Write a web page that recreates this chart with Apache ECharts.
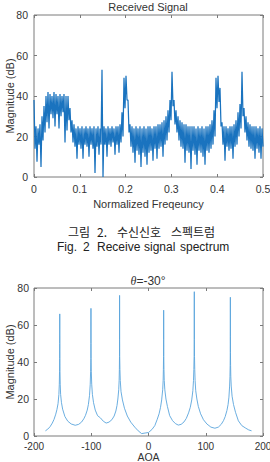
<!DOCTYPE html>
<html><head><meta charset="utf-8">
<script src="https://cdn.jsdelivr.net/npm/echarts@6/dist/echarts.min.js"></script>
<style>html,body{margin:0;padding:0;background:#fff;}#c{width:270px;height:462px;}</style>
</head><body><div id="c"></div>
<script>
// ---- Top chart: received signal spectrum (upper / lower envelope of the noisy band, per bin pair)
const recvUpper = [38,25,24,26,30,35,40,42,41,40,42,41,40,41,40,41,40,40,34,28,
  26,24,25,24,25,24,25,24,25,24,25,24,25,24,53,25,24,25,24,25,
  24,25,25,26,32,49,50,38,26,25,24,25,24,25,24,25,24,25,25,24,
  25,25,26,26,27,28,30,33,38,52,38,33,30,28,27,26,26,25,25,25,
  25,24,25,24,25,24,25,25,26,28,33,49,50,44,27,25,25,24,25,25,
  26,28,32,36,52,34,30,27,26,25,25,25,24,25,24];
const recvLower = [14,7.5,16,5,18,22,27,24,31,29,25,31,24,30,32,17,23,28,22,17,
  15,9,16,14,9,16,15,10,16,14,2,15,11,16,0,16,10,16,15,17,
  11,16,12,17,20,34,38,22,15,12,7,13,11,5,12,10,6,12,13,8,
  14,9,14,15,10,16,18,22,28,35,26,22,18,15,14,7,13,12,4,13,
  11,6,13,12,10,6,13,12,14,16,20,34,37,25,16,8,15,13,14,9,
  15,16,20,24,30,22,18,15,14,13,9,14,12,9,15];
const freqTicks = ['0','0.1','0.2','0.3','0.4','0.5'];

// ---- Bottom chart: spectrum vs AOA (theta = -30 deg)
const aoaDeg = [-180,-176,-172,-168,-165,-162,-160,-158,-156.5,-155.8,-155.4,-155.15,-155.05,-155,-154.95,-154.85,-154.6,-154.2,-153.5,-152,-150,-146,-141,-135,-128,
  -122,-117,-113,-110,-107,-105,-103,-101.8,-101.1,-100.7,-100.55,-100.5,-100.45,-100.3,-99.9,-99.2,-98,-96,-93,-89,-84,-79,-74,
  -69,-64,-60,-57,-55,-53.5,-52,-51.3,-50.9,-50.65,-50.55,-50.5,-50.45,-50.3,-49.9,-49.3,-48,-45.5,-42,-37,-31,-24,-18,-12,-6,0,6,11,15,18.5,21,23,24.8,25.6,26,26.3,26.45,26.5,26.55,26.7,27,27.5,28.5,30.5,33,37,42,47,52,
  57,62,66,70,73,75.5,77.5,78.6,79.2,79.65,79.92,80,80.08,80.35,80.8,81.4,82.5,84.5,87,91,96,102,109,116,
  122,127,131,134,137,139,140.5,141.7,142.3,142.65,142.85,142.95,143,143.05,143.15,143.4,143.8,144.5,146,148.5,152,157,163,170,175,180];
const aoaMag = [2.8,3.7,5.0,7.0,9.0,11.8,14.2,17.5,22.5,28,35,42,50,66,50,42,35,28,22.5,18,14.5,10.5,8,6.5,5.8,
  6.3,7.5,9.3,11.2,14,17,22,28,35,42,50,69,50,42,35,28,22.5,18,14,11,9.8,8.0,7.0,
  7.5,8.8,10.8,13.5,16.5,20,25,30,36,43,52,76,52,43,36,30,24,19.5,15,10.8,7.5,4.8,2.8,1.3,1.6,1.9,3.5,5.6,8.8,12,15.5,19.5,25,30,36,43,52,68,52,43,36,30,25,20,16,11,8.3,6.7,5.9,
  6.3,7.6,9.5,12.5,15.5,19.5,24.5,30,36,43,52,78,52,43,36,30,24.5,20,16,12,8.8,6.5,4.8,4.2,
  4.8,6.3,8.3,10.5,13.8,17,21,27,32,38,45,54,75,54,45,38,32,27,21.5,17,12.8,8.2,5.6,4.2,3.3,2.8];
const aoaTicks = ['-200','-100','0','100','200'];
const magTicks = ['0','20','40','60','80'];

// caption words (Korean line, English line)
const captionKo = ['그림', '2.', '수신신호', '스펙트럼'];
const captionEn = ['Fig.', '2', 'Receive', 'signal', 'spectrum'];

const nBins = recvUpper.length * 2;
const recvData = [];
for (let i = 0; i < recvUpper.length; i++) {
  recvData.push([(2 * i) * 0.5 / (nBins - 1), recvUpper[i]]);
  recvData.push([(2 * i + 1) * 0.5 / (nBins - 1), recvLower[i]]);
}
const aoaData = aoaDeg.map((d, i) => [d, aoaMag[i]]);

const txt = '#333', axc = '#7a7a7a';
const FONT = 'Liberation Sans, Arial, sans-serif';
function xMain(grid, min, max, interval, labels, name, gap, margin, lblSize, nameSize) {
  return {type:'value', gridIndex:grid, min, max, interval,
    axisLine:{show:false, onZero:false}, splitLine:{show:false},
    axisTick:{inside:true, length:3, lineStyle:{color:axc, width:1}},
    axisLabel:{fontSize:lblSize, color:txt, margin, fontFamily:FONT,
      formatter:(v)=>{const idx=Math.round((v-min)/interval); return labels[idx]!==undefined?labels[idx]:'';}},
    name, nameLocation:'middle', nameGap:gap, nameMoveOverlap:false,
    nameTextStyle:{fontSize:nameSize, color:txt, fontFamily:FONT}};
}
function xMirror(grid, min, max, interval) {
  return {type:'value', gridIndex:grid, position:'top', min, max, interval,
    axisLine:{show:false, onZero:false}, splitLine:{show:false}, axisLabel:{show:false},
    axisTick:{inside:true, length:3, lineStyle:{color:axc, width:1}}};
}
function yMain(grid, margin, gap) {
  return {type:'value', gridIndex:grid, position:'left', min:0, max:80, interval:20,
    axisLine:{show:false, onZero:false}, splitLine:{show:false},
    axisTick:{inside:true, length:3, lineStyle:{color:axc, width:1}},
    axisLabel:{fontSize:10.5, color:txt, margin, fontFamily:FONT,
      formatter:(v)=>magTicks[Math.round(v/20)]},
    name:'Magnitude (dB)', nameLocation:'middle', nameGap:gap, nameMoveOverlap:false,
    nameTextStyle:{fontSize:11, color:txt, fontFamily:FONT}};
}
function yMirror(grid) {
  return {type:'value', gridIndex:grid, position:'right', min:0, max:80, interval:20,
    axisLine:{show:false, onZero:false}, splitLine:{show:false}, axisLabel:{show:false},
    axisTick:{inside:true, length:3, lineStyle:{color:axc, width:1}}};
}
function wordTexts(words, xs, y, size, family) {
  return words.map((w, i) => ({type:'text', x:xs[i], y,
    style:{text:w, fontSize:size, fill:'#222', fontFamily:family, align:'left', verticalAlign:'middle'}}));
}

const chart = echarts.init(document.getElementById('c'), null, {renderer:'svg'});
chart.setOption({
  animation:false,
  backgroundColor:'#fff',
  textStyle:{fontFamily:FONT},
  grid:[
    {left:34, top:15, width:229, height:162, show:true, borderColor:axc, borderWidth:1, containLabel:false, outerBoundsMode:'none'},
    {left:34, top:288, width:229, height:148, show:true, borderColor:axc, borderWidth:1, containLabel:false, outerBoundsMode:'none'}
  ],
  xAxis:[
    xMain(0, 0, 0.5, 0.1, freqTicks, 'Normalized Freqeuncy', 21, 6, 10.5, 11),
    xMirror(0, 0, 0.5, 0.1),
    xMain(1, -200, 200, 100, aoaTicks, 'AOA', 15.7, 5.6, 10, 10.5),
    xMirror(1, -200, 200, 100)
  ],
  yAxis:[
    yMain(0, 6, 19), yMirror(0),
    yMain(1, 5, 19), yMirror(1)
  ],
  series:[
    {type:'line', xAxisIndex:0, yAxisIndex:0, data:recvData, showSymbol:false, sampling:null,
      lineStyle:{color:'#1a73bf', width:1.25}, itemStyle:{color:'#1a73bf'}},
    {type:'line', xAxisIndex:2, yAxisIndex:2, data:aoaData, showSymbol:false,
      lineStyle:{color:'#5aa5dc', width:0.9}, itemStyle:{color:'#5aa5dc'}}
  ],
  graphic:[
    {type:'text', x:148, y:6.5, style:{text:'Received Signal', fontSize:11, fill:txt, fontFamily:FONT, align:'center', verticalAlign:'middle'}},
    ...wordTexts(captionKo, [68, 97, 117, 171], 231, 12, 'Noto Sans CJK KR'),
    ...wordTexts(captionEn, [57, 83, 97, 144, 180], 247, 12, FONT),
    {type:'text', x:148, y:281, style:{text:'{it|θ}=-30°', fontSize:12, fill:txt, fontFamily:FONT, align:'center', verticalAlign:'middle',
      rich:{it:{fontStyle:'italic', fontFamily:'Liberation Serif, serif', fontSize:12, fill:txt}}}}
  ]
});
</script>
</body></html>
